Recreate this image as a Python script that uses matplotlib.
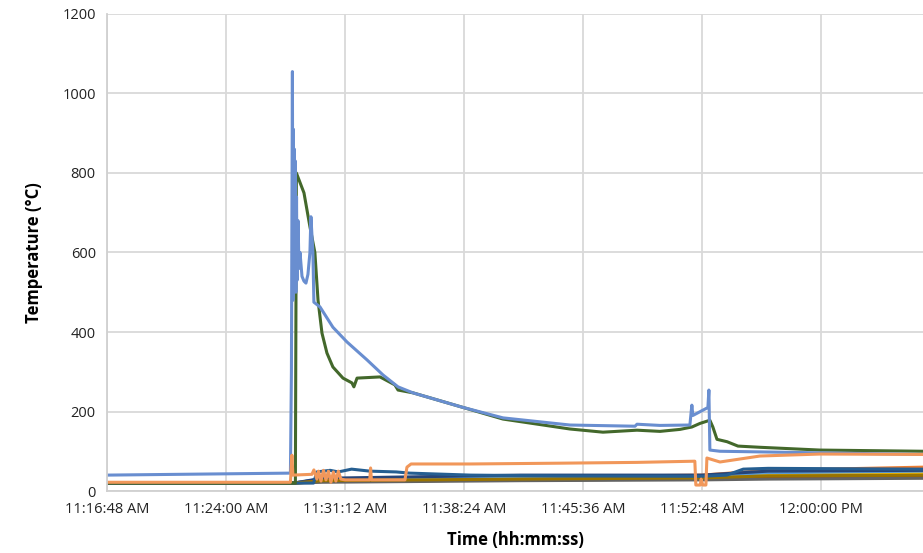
#!/usr/bin/env python3
"""Thermocouple temperatures over time (fire test)"""

import matplotlib
matplotlib.use('Agg')
import matplotlib.pyplot as plt

plt.rcParams['font.family'] = ['Open Sans', 'DejaVu Sans']

# time axis: minutes elapsed since 11:16:48 AM
tick_minutes = [0, 7.2, 14.4, 21.6, 28.8, 36.0, 43.2]
tick_labels = ['11:16:48 AM', '11:24:00 AM', '11:31:12 AM', '11:38:24 AM',
               '11:45:36 AM', '11:52:48 AM', '12:00:00 PM']
x_end = 49.37

# background thermocouples (near ambient)
bg_t = [0, 11.3, 13.0, 25.0, 36.0, 40.0, 49.37]
bg_series = {
    '#4472C4': [20, 20, 30, 36, 38, 44, 48],
    '#ED7D31': [20, 20, 28, 35, 40, 52, 60],
    '#A5A5A5': [20, 20, 25, 30, 32, 38, 42],
    '#FFC000': [20, 20, 27, 33, 36, 42, 45],
    '#5B9BD5': [20, 20, 30, 36, 38, 46, 50],
    '#70AD47': [20, 20, 24, 28, 30, 35, 38],
    '#264478': [20, 20, 32, 40, 40, 50, 52],
    '#9E480E': [20, 20, 24, 28, 30, 34, 36],
    '#636363': [20, 20, 22, 26, 28, 30, 32],
    '#997300': [20, 20, 26, 30, 33, 38, 40],
}

# dark blue thermocouple
db_t = [0, 12.50, 12.70, 13.5, 14.0, 14.8, 15.9, 17.5, 18.3, 22.0, 27.4,
        36.0, 37.5, 38.5, 40.0, 49.37]
db_v = [20, 20, 48, 52, 48, 55, 50, 48, 45, 40, 38, 37, 40, 55, 57, 55]

# green thermocouple
green_t = [0, 11.40, 11.46, 11.92, 12.28, 12.58, 12.77, 13.01, 13.31, 13.67,
           14.28, 14.82, 14.94, 15.13, 16.52, 17.42, 17.61, 18.51, 21.48,
           23.96, 28.01, 30.01, 32.07, 33.46, 34.67, 35.39, 35.88, 36.48,
           36.66, 36.91, 37.52, 38.18, 39.51, 43.14, 49.37]
green_v = [20, 20, 800, 750, 665, 600, 480, 397, 347, 312,
           284, 272, 262, 284, 287, 267, 254, 247, 211,
           181, 156, 148, 153, 150, 155, 161, 170, 178,
           161, 130, 124, 113, 110, 103, 100]

# light blue thermocouple (flame spike)
blue_t = [0, 11.10, 11.16, 11.22, 11.25, 11.28, 11.31, 11.34, 11.37, 11.40,
          11.43, 11.47, 11.50, 11.56, 11.62, 11.68, 11.80, 11.92, 12.04,
          12.16, 12.28, 12.34, 12.46, 12.52, 12.89, 13.67, 14.52, 15.73,
          16.70, 17.61, 18.51, 21.48, 23.96, 28.01, 31.95, 32.07, 33.46,
          35.27, 35.39, 35.45, 36.36, 36.42, 36.48, 37.09, 43.14, 49.37]
blue_v = [40, 45, 300, 1055, 480, 910, 520, 860, 560, 830,
          500, 740, 530, 680, 560, 600, 540, 528, 523,
          545, 600, 690, 600, 475, 463, 412, 375, 330,
          292, 262, 247, 211, 184, 166, 163, 168, 165,
          166, 216, 190, 210, 254, 103, 100, 96, 92]

# light orange thermocouple
orange_t = [0, 11.10, 11.19, 11.25, 12.40, 12.52, 12.70, 12.80, 12.95, 13.10,
            13.25, 13.40, 13.55, 13.70, 13.85, 14.00, 14.15, 14.40, 15.90,
            15.95, 16.00, 18.03, 18.15, 18.40, 21.96, 27.40, 32.07, 35.57,
            35.63, 35.90, 35.95, 36.05, 36.24, 36.30, 37.09, 39.51, 43.14,
            49.37]
orange_v = [22, 22, 90, 40, 42, 53, 30, 50, 25, 52,
            28, 50, 22, 48, 25, 50, 30, 28, 28,
            58, 28, 28, 60, 68, 68, 70, 72, 75,
            15, 15, 30, 15, 15, 83, 73, 88, 93,
            92]

fig = plt.figure(figsize=(9.23, 5.53), dpi=100)
ax = fig.add_axes([0.1159, 0.1121, 0.884, 0.8626])

lw = 2.2
for color, vals in bg_series.items():
    ax.plot(bg_t, vals, color=color, linewidth=lw)
ax.plot(db_t, db_v, color='#255E91', linewidth=lw)
ax.plot(green_t, green_v, color='#43682B', linewidth=lw)
ax.plot(blue_t, blue_v, color='#698ED0', linewidth=lw)
ax.plot(orange_t, orange_v, color='#F1975A', linewidth=lw)

ax.set_xlim(0, x_end)
ax.set_ylim(0, 1200)
ax.set_xticks(tick_minutes)
ax.set_xticklabels(tick_labels)
ax.set_yticks(range(0, 1201, 200))
ax.grid(True, color='#d9d9d9', linewidth=1.3)
ax.set_axisbelow(True)
for side in ['top', 'right']:
    ax.spines[side].set_visible(False)
for side in ['left', 'bottom']:
    ax.spines[side].set_color('#d0d0d0')
    ax.spines[side].set_linewidth(1.3)
ax.tick_params(length=0, labelsize=10.5, colors='#222222', pad=8)
ax.set_xlabel('Time (hh:mm:ss)', fontsize=12, fontweight='bold', labelpad=10)
ax.set_ylabel('Temperature (°C)', fontsize=12, fontweight='bold', labelpad=14)

fig.savefig('out.png', dpi=100)
